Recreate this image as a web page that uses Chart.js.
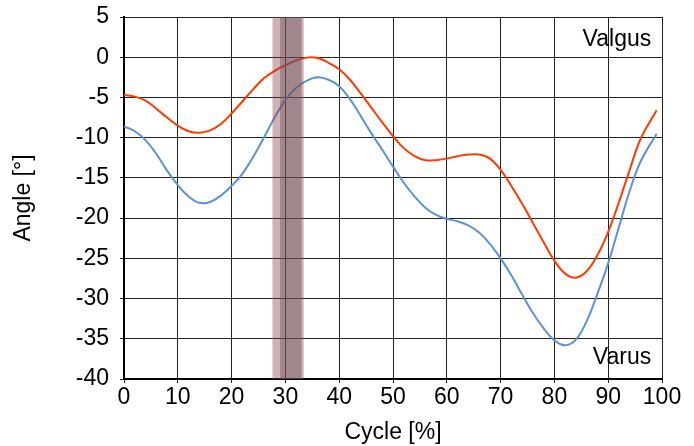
<!DOCTYPE html>
<html>
<head>
<meta charset="utf-8">
<script src="https://cdn.jsdelivr.net/npm/chart.js@4.4.1/dist/chart.umd.min.js"></script>
<style>
  html, body { margin: 0; padding: 0; background: #fff; }
  #wrap { width: 694px; height: 446px; }
</style>
</head>
<body>
<div id="wrap"><canvas id="kneeChart" width="694" height="446"></canvas></div>
<script>
// gait cycle [%] and frontal-plane knee angle [°]
const cycle = [0, 2, 4, 6, 8, 10, 12, 14, 16, 18, 20, 22, 24, 26, 28, 30, 32, 34, 36, 38,
  40, 42, 44, 46, 48, 50, 52, 54, 56, 58, 60, 62, 64, 66, 68, 70, 72, 74, 76, 78,
  80, 82, 84, 86, 88, 90, 92, 94, 96, 99];

const angleRed = [-4.7, -4.9, -5.4, -6.4, -7.5, -8.5, -9.2, -9.4, -9.1, -8.3,
  -7.0, -5.5, -4.0, -2.6, -1.7, -1.0, -0.4, -0.05, -0.1, -0.7,
  -1.5, -2.8, -4.5, -6.3, -8.1, -9.8, -11.3, -12.3, -12.8, -12.8,
  -12.6, -12.3, -12.1, -12.1, -12.6, -14.0, -16.0, -18.2, -20.6, -23.0,
  -25.3, -26.9, -27.4, -26.6, -24.6, -21.7, -18.0, -14.0, -10.2, -6.6];

const angleBlue = [-8.6, -9.2, -10.3, -12.0, -14.1, -15.9, -17.3, -18.1, -18.0, -17.2,
  -16.0, -14.5, -12.4, -10.0, -7.5, -5.3, -3.8, -2.9, -2.5, -2.8,
  -3.6, -5.2, -7.3, -9.5, -11.5, -13.6, -15.6, -17.3, -18.7, -19.6,
  -20.1, -20.4, -20.9, -21.8, -23.2, -25.0, -27.1, -29.5, -31.8, -33.7,
  -35.2, -35.8, -35.1, -32.8, -29.4, -25.6, -21.1, -16.6, -13.0, -9.5];

// shaded event window (cycle %)
const bandOuter = [27.6, 33.4];
const bandInner = [29.0, 33.0];

const xTicks = [0, 10, 20, 30, 40, 50, 60, 70, 80, 90, 100];
const yTicks = [5, 0, -5, -10, -15, -20, -25, -30, -35, -40];

const notes = [
  { text: 'Valgus', x: 98, y: 2.2 },
  { text: 'Varus', x: 98, y: -37.3 }
];

const toPoints = (xs, ys) => xs.map((x, i) => ({ x: x, y: ys[i] }));

Chart.defaults.font.family = '"Liberation Sans", Arial, sans-serif';
Chart.defaults.color = '#000';

const bandPlugin = {
  id: 'band',
  afterDatasetsDraw(chart) {
    const { ctx, chartArea, scales } = chart;
    const x = scales.x;
    ctx.save();
    ctx.fillStyle = 'rgba(140,60,65,0.4)';
    let a = x.getPixelForValue(bandOuter[0]);
    let b = x.getPixelForValue(bandOuter[1]);
    ctx.fillRect(a, chartArea.top, b - a, chartArea.bottom - chartArea.top);
    ctx.fillStyle = 'rgba(105,85,95,0.45)';
    a = x.getPixelForValue(bandInner[0]);
    b = x.getPixelForValue(bandInner[1]);
    ctx.fillRect(a, chartArea.top, b - a, chartArea.bottom - chartArea.top);
    ctx.restore();
  }
};

const notesPlugin = {
  id: 'notes',
  afterDraw(chart) {
    const { ctx, scales } = chart;
    ctx.save();
    ctx.font = '23px "Liberation Sans", Arial, sans-serif';
    ctx.fillStyle = '#000';
    ctx.textAlign = 'right';
    ctx.textBaseline = 'middle';
    notes.forEach(n => {
      ctx.fillText(n.text, scales.x.getPixelForValue(n.x), scales.y.getPixelForValue(n.y));
    });
    ctx.restore();
  }
};

new Chart(document.getElementById('kneeChart'), {
  type: 'line',
  data: {
    datasets: [
      {
        label: 'red',
        data: toPoints(cycle, angleRed),
        borderColor: '#ff3a00',
        borderWidth: 2,
        pointRadius: 0,
        tension: 0.4
      },
      {
        label: 'blue',
        data: toPoints(cycle, angleBlue),
        borderColor: '#5a93d8',
        borderWidth: 2,
        pointRadius: 0,
        tension: 0.4
      }
    ]
  },
  options: {
    responsive: false,
    animation: false,
    layout: { padding: { top: 17, right: 32, left: 10, bottom: 0 } },
    plugins: {
      legend: { display: false },
      tooltip: { enabled: false }
    },
    scales: {
      x: {
        type: 'linear',
        min: 0,
        max: 100,
        afterBuildTicks: s => { s.ticks = xTicks.map(v => ({ value: v })); },
        afterFit: s => { s.height = 67; },
        grid: { color: '#222', lineWidth: 1, tickLength: 4 },
        border: { color: '#000', width: 2 },
        ticks: { font: { size: 23 }, padding: 1, maxRotation: 0 },
        title: { display: true, text: 'Cycle [%]', font: { size: 23 }, padding: { top: 0, bottom: 0 } }
      },
      y: {
        min: -40,
        max: 5,
        afterBuildTicks: s => { s.ticks = yTicks.map(v => ({ value: v })); },
        afterFit: s => { s.width = 114; s.paddingTop = 0; s.paddingBottom = 0; },
        grid: { color: '#222', lineWidth: 1, tickLength: 4 },
        border: { color: '#000', width: 2 },
        ticks: { font: { size: 23 }, padding: 11 },
        title: { display: true, text: 'Angle [°]', font: { size: 23 }, padding: { top: 0, bottom: 0 } }
      }
    }
  },
  plugins: [bandPlugin, notesPlugin]
});
</script>
</body>
</html>
